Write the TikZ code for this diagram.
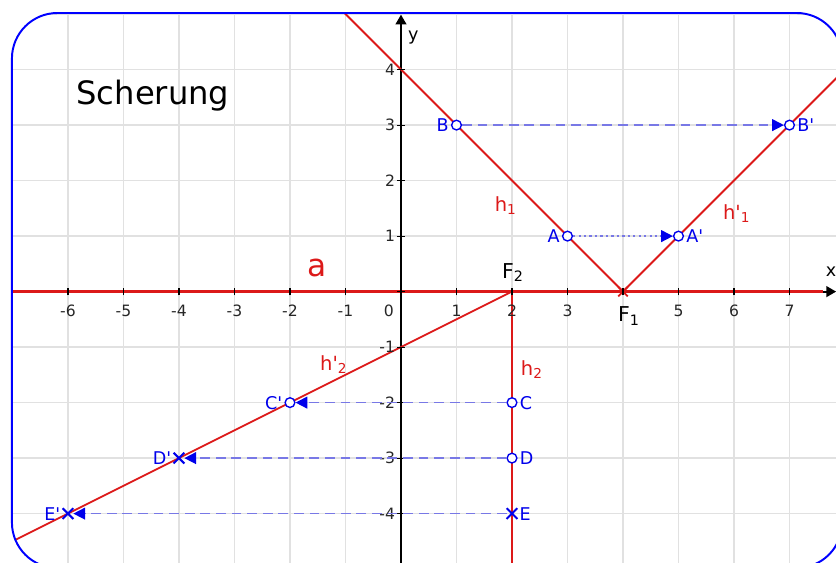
\documentclass[tikz,border=0pt]{standalone}
\usepackage{fontspec}
\setmainfont{DejaVu Sans}[Ligatures=TeXOff]
\usetikzlibrary{positioning,calc,arrows.meta,shapes.misc}
\definecolor{ggred}{RGB}{220,25,25}
\definecolor{ggblue}{RGB}{0,0,235}
\definecolor{ggdash}{RGB}{120,120,230}
\definecolor{gggrid}{RGB}{225,225,225}

\begin{document}
\begin{tikzpicture}[>={Triangle[length=5pt,width=5.5pt]}, font=\fontsize{9}{10}\selectfont]
    \tikzstyle{pt node} = [circle, draw=ggblue, fill=white, line width=0.7pt, inner sep=0pt, minimum size=5pt]
    \tikzstyle{cross node} = [cross out, draw=ggblue, line width=1pt, inner sep=0pt, minimum size=4.5pt]
    \tikzstyle{red line} = [ggred, line width=1pt]
    \tikzstyle{shift line} = [-{Triangle[length=6pt,width=6pt,color=ggblue]}, ggdash, line width=0.8pt, dash pattern=on 5pt off 3pt]
    \tikzstyle{pt lbl} = [text=ggblue, inner sep=1pt]
    \tikzstyle{red lbl} = [text=ggred, font=\fontsize{10}{11}\selectfont, inner sep=0pt]
    \tikzstyle{tick lbl} = [font=\fontsize{8}{9}\selectfont, text=black!85, inner sep=0pt]
    \useasboundingbox (-7.225,-4.872) rectangle (7.838,5.254);
    \begin{scope}
    \clip[rounded corners=0.82cm] (-7.01,-4.98) rectangle (7.95,5.02);
    % grid
    \draw[gggrid, line width=0.7pt] (-8,-6) grid (9,6);
    % axes
    \coordinate (xstart) at (-7.3,0);
    \coordinate (xend) at (7.84,0);
    \coordinate (ystart) at (0,-5);
    \coordinate (yend) at (0,4.99);
    \draw[->, line width=1pt] (xstart) -- (xend);
    \draw[->, line width=1pt] (ystart) -- (yend);
    % shear axis and lines
    \coordinate (F1) at (4,0);
    \coordinate (F2) at (2,0);
    \coordinate (h1end) at (-1.5,5.5);
    \coordinate (h1pend) at (8.5,4.5);
    \coordinate (h2end) at (2,-5.5);
    \coordinate (h2pend) at (-8,-5);
    \draw[ggred, line width=1.6pt] (xstart) -- (7.6,0);
    \draw[red line] (h1end) -- (F1) -- (h1pend);
    \draw[red line] (F2) -- (h2end);
    \draw[red line, line width=0.9pt] (F2) -- (h2pend);
    \node[cross out, draw=ggred, line width=0.9pt, minimum size=4pt, inner sep=0pt] (F1mark) at (F1) {};
    % ticks
    \foreach \x in {-6,...,7}
        \draw[line width=0.6pt] (\x,-0.07) -- (\x,0.07);
    \foreach \y in {-4,...,4}
        \draw[line width=0.6pt] (-0.07,\y) -- (0.07,\y);
    \foreach \x in {-6,...,-1,1,2,3,5,6,7}
        \node[tick lbl] at (\x,-0.35) {\x};
    \node[tick lbl] at (-0.22,-0.35) {0};
    \foreach \y in {-4,...,-1,1,2,3,4}
        \node[tick lbl, anchor=east] at (-0.1,\y) {\y};
    \node[font=\fontsize{9}{10}\selectfont] (ylbl) at (0.22,4.57) {y};
    \node[font=\fontsize{9}{10}\selectfont] (xlbl) at (7.75,0.35) {x};
    % points
    \node[pt node, label={[pt lbl]left:A}] (A) at (3,1) {};
    \node[pt node, label={[pt lbl]right:A'}] (A') at (5,1) {};
    \node[pt node, label={[pt lbl]left:B}] (B) at (1,3) {};
    \node[pt node, label={[pt lbl]right:B'}] (B') at (7,3) {};
    \node[pt node, label={[pt lbl]right:C}] (C) at (2,-2) {};
    \node[pt node, label={[pt lbl]left:C'}] (C') at (-2,-2) {};
    \node[pt node, label={[pt lbl]right:D}] (D) at (2,-3) {};
    \node[cross node, label={[pt lbl]left:D'}] (D') at (-4,-3) {};
    \node[cross node, label={[pt lbl]right:E}] (E) at (2,-4) {};
    \node[cross node, label={[pt lbl]left:E'}] (E') at (-6,-4) {};
    \draw[shift line, dash pattern=on 1.2pt off 1.6pt] (A) -- (A');
    \draw[shift line] (B) -- (B');
    \draw[shift line] (C) -- (C');
    \draw[shift line] (D) -- (D');
    \draw[shift line] (E) -- (E');
    % labels
    \node[red lbl, font=\fontsize{16}{18}\selectfont] (albl) at (-1.51,0.42) {a};
    \node[red lbl] (h1lbl) at (1.89,1.55) {h\textsubscript{1}};
    \node[red lbl] (h1plbl) at (6.05,1.4) {h'\textsubscript{1}};
    \node[red lbl] (h2lbl) at (2.36,-1.41) {h\textsubscript{2}};
    \node[red lbl] (h2plbl) at (-1.21,-1.32) {h'\textsubscript{2}};
    \node[font=\fontsize{10.5}{12}\selectfont, inner sep=0pt] (F2lbl) at (2.02,0.34) {F\textsubscript{2}};
    \node[font=\fontsize{10.5}{12}\selectfont, inner sep=0pt] (F1lbl) at (4.11,-0.44) {F\textsubscript{1}};
    \node[font=\fontsize{16.5}{18}\selectfont] (title) at (-4.47,3.54) {Scherung};
    \end{scope}
    \draw[blue, line width=1pt, rounded corners=0.82cm] (-7.01,-4.98) rectangle (7.95,5.02);
\end{tikzpicture}
\end{document}
